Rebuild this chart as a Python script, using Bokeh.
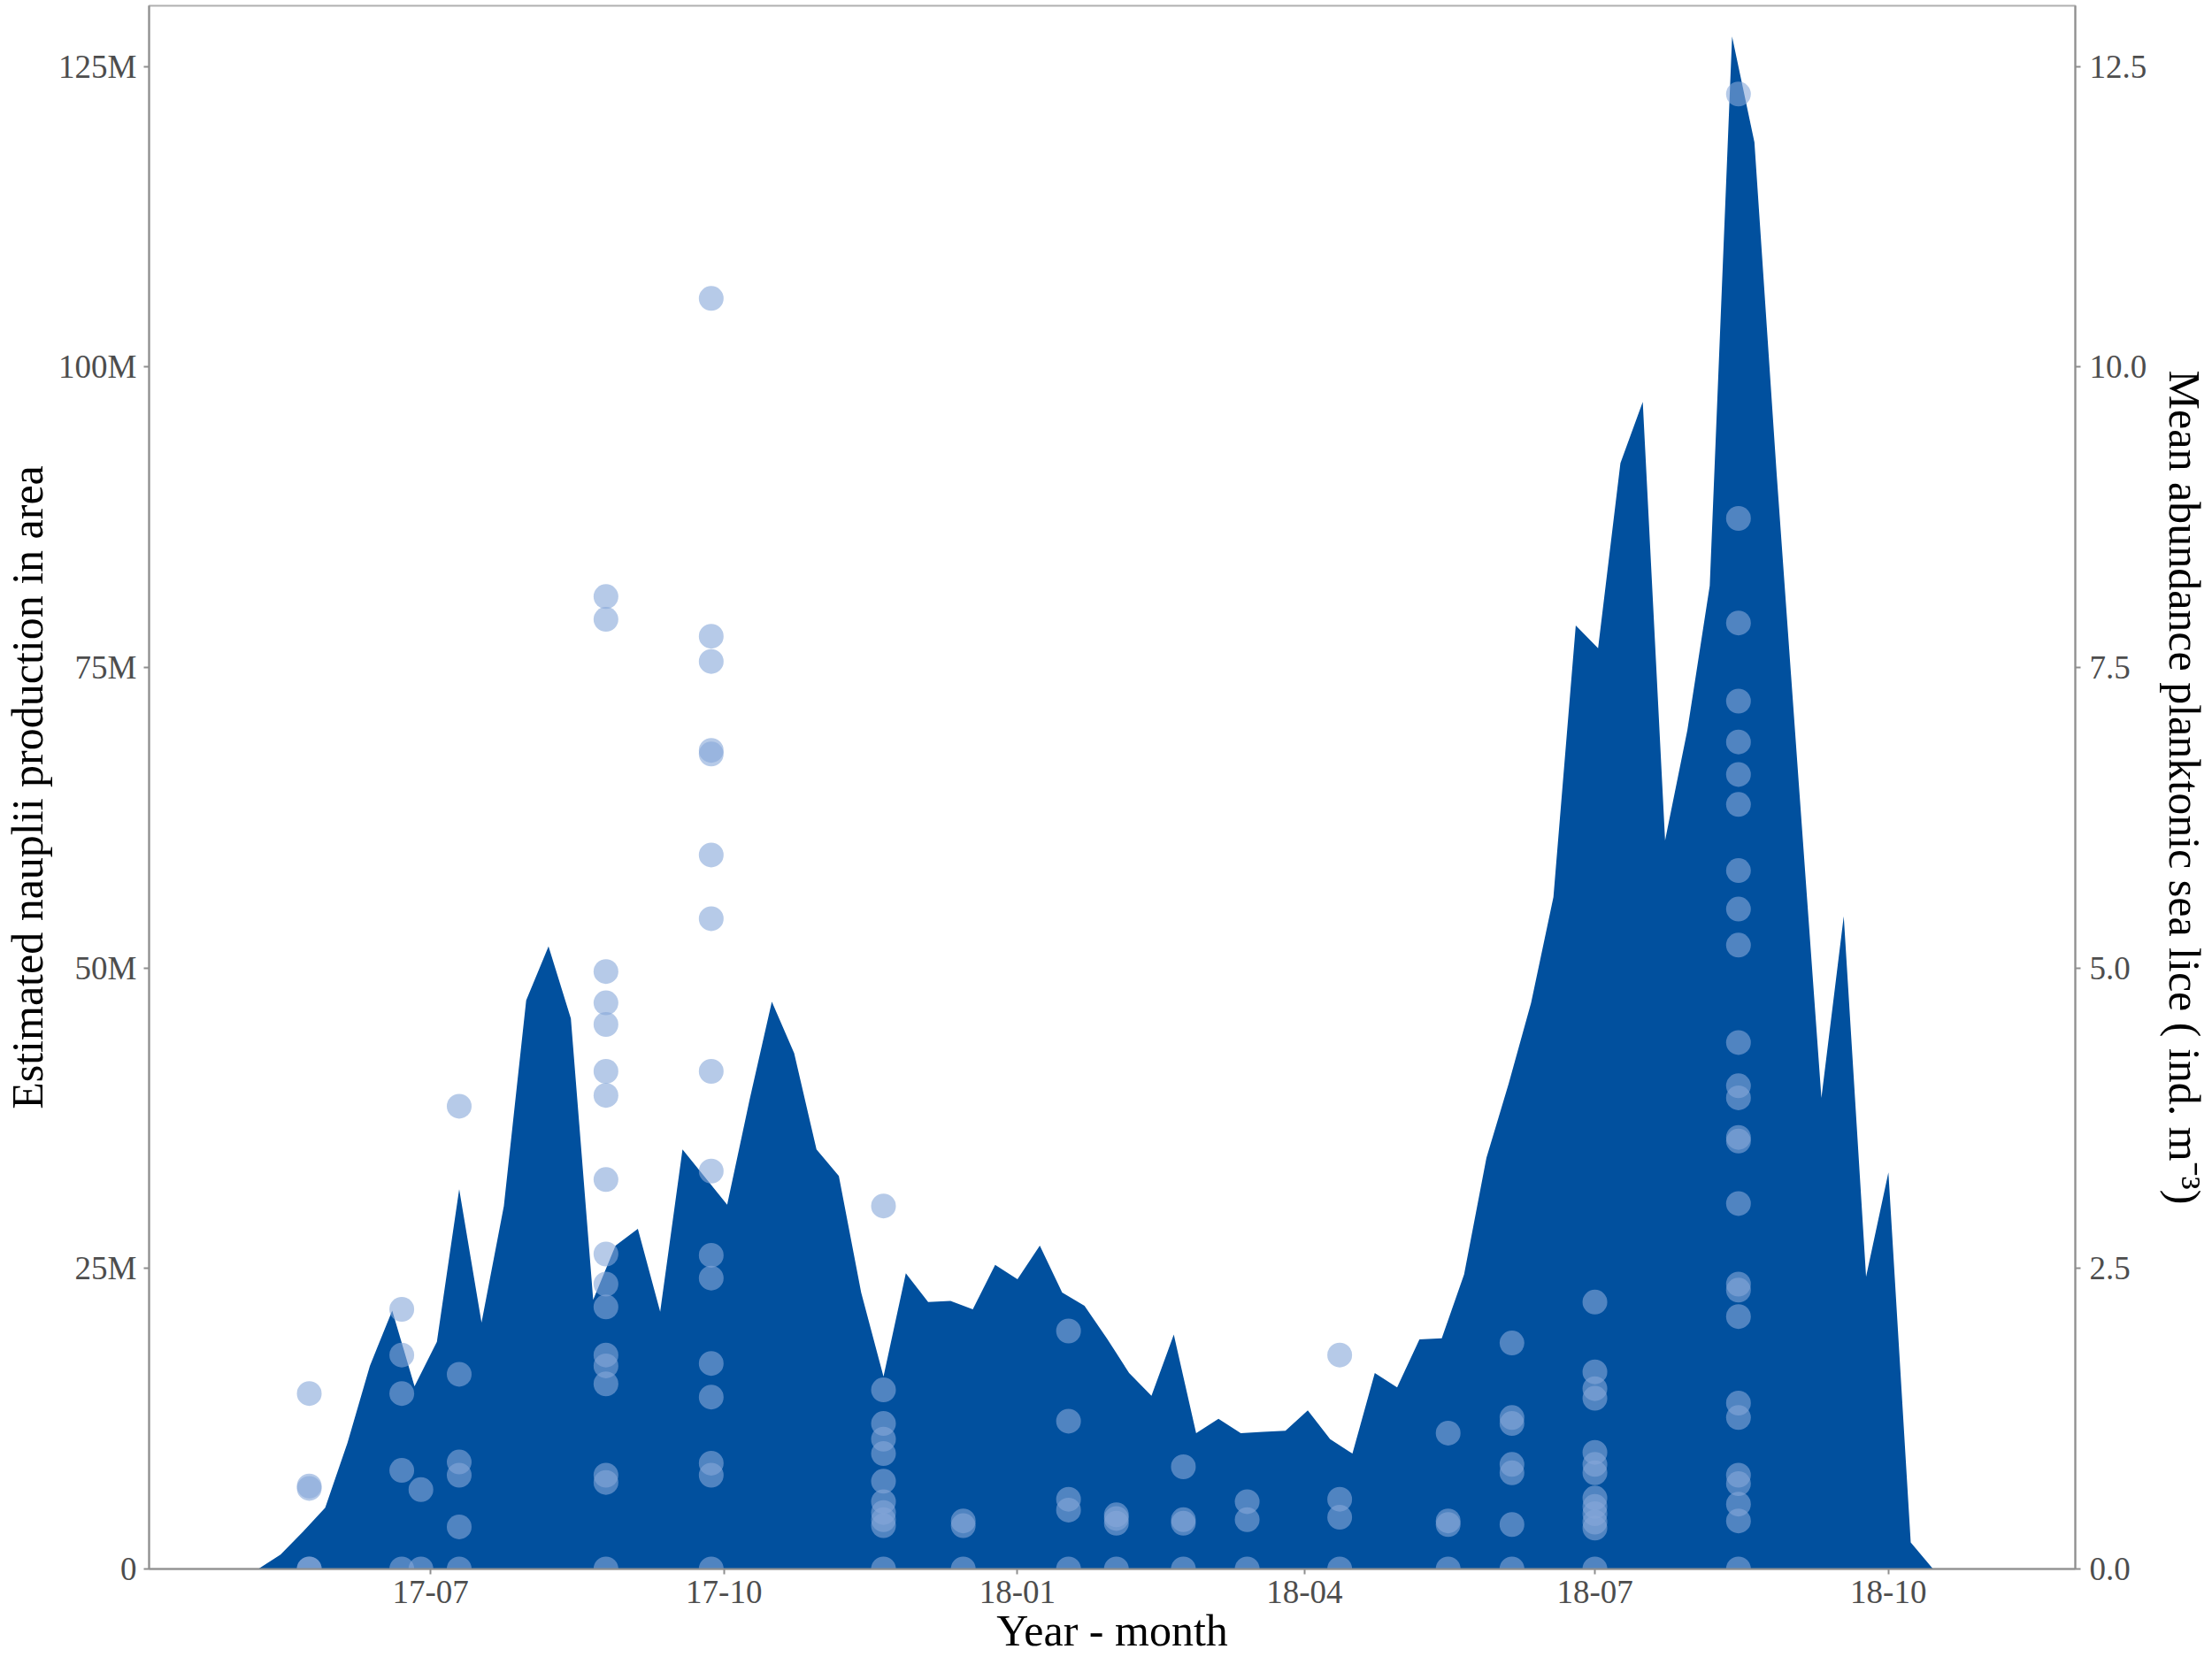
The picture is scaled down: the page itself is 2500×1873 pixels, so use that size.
import pandas as pd
from datetime import datetime
from bokeh.plotting import figure
from bokeh.models import (Range1d, LinearAxis, FixedTicker, DatetimeTickFormatter,
                          PrintfTickFormatter, ColumnDataSource)
from bokeh.embed import file_html
from bokeh.resources import INLINE

# ---------------- data ----------------
# weekly estimated nauplii production (millions), starting 2017-05-08
production_start = "2017-05-08"
production_millions = [
    0, 1.2, 3.1, 5.1, 10.5, 16.9, 21.5, 15.2, 18.9, 31.6,
    20.5, 30.2, 47.3, 51.8, 45.8, 22.4, 26.9, 28.3, 21.4, 34.9,
    32.6, 30.3, 39.0, 47.2, 42.9, 34.9, 32.7, 23.0, 16.0, 24.6,
    22.2, 22.3, 21.6, 25.3, 24.1, 26.9, 23.0, 21.9, 19.2, 16.3,
    14.4, 19.5, 11.3, 12.5, 11.3, 11.4, 11.5, 13.2, 10.8, 9.6,
    16.3, 15.1, 19.1, 19.2, 24.5, 34.2, 40.4, 47.1, 55.9, 78.5,
    76.6, 92.0, 97.1, 60.6, 69.8, 81.8, 127.5, 118.7, 91.0, 65.0,
    39.2, 54.3, 24.3, 33.0, 2.2, 0,
]

# planktonic sea lice samples (ind. m^-3) per sampling date
sample_dates = ["2017-05-24", "2017-06-22", "2017-06-28", "2017-07-10", "2017-08-25",
                "2017-09-27", "2017-11-20", "2017-12-15", "2018-01-17", "2018-02-01",
                "2018-02-22", "2018-03-14", "2018-04-12", "2018-05-16", "2018-06-05",
                "2018-07-01", "2018-08-15"]
sample_values = [
    [1.46, 0.69, 0.67, 0, 0],
    [2.16, 1.78, 1.46, 0.82, 0],
    [0.66, 0],
    [3.85, 1.62, 0.89, 0.78, 0.35, 0],
    [8.09, 7.90, 4.97, 4.71, 4.53, 4.14, 3.94, 3.24, 2.62, 2.37, 2.18, 1.78, 1.69, 1.54, 0.78, 0.72, 0],
    [10.57, 7.76, 7.55, 6.81, 6.78, 5.94, 5.41, 4.14, 3.31, 2.61, 2.42, 1.71, 1.43, 0.88, 0.78, 0],
    [3.02, 1.49, 1.21, 1.08, 0.96, 0.73, 0.56, 0.47, 0.41, 0.36, 0],
    [0.40, 0.36, 0],
    [1.98, 1.23, 0.58, 0.49, 0],
    [0.45, 0.42, 0.38, 0],
    [0.85, 0.41, 0.38, 0],
    [0.56, 0.41, 0],
    [1.78, 0.58, 0.43, 0],
    [1.13, 0.40, 0.37, 0],
    [1.88, 1.26, 1.21, 0.87, 0.80, 0.37, 0],
    [2.22, 1.64, 1.50, 1.42, 0.97, 0.87, 0.80, 0.59, 0.52, 0.46, 0.39, 0.34, 0],
    [12.27, 8.74, 7.87, 7.22, 6.88, 6.61, 6.36, 5.81, 5.49, 5.19, 4.38, 4.02, 3.92, 3.59,
     3.56, 3.04, 2.37, 2.32, 2.10, 1.38, 1.26, 0.78, 0.71, 0.54, 0.40, 0],
]

x_tick_dates = ["2017-07-01", "2017-10-01", "2018-01-01", "2018-04-01", "2018-07-01", "2018-10-01"]
left_ticks = [0, 25, 50, 75, 100, 125]
left_tick_labels = ["0", "25M", "50M", "75M", "100M", "125M"]
right_ticks = [0, 2.5, 5, 7.5, 10, 12.5]

x_title = "Year - month"
left_title = "Estimated nauplii production in area"
right_title = "Mean abundance planktonic sea lice ( ind. m\u207b\u00b3)"

# ---------------- sources ----------------
prod_dates = pd.date_range(production_start, periods=len(production_millions), freq="7D")
area_src = ColumnDataSource(dict(x=prod_dates, y=production_millions))

px, py = [], []
for d, vals in zip(sample_dates, sample_values):
    for v in vals:
        px.append(pd.Timestamp(d))
        py.append(v)
pts_src = ColumnDataSource(dict(x=px, y=py))

FONT = "Liberation Serif"
TICK_COLOR = "#4d4d4d"
AXIS_COLOR = "#8f8f8f"
y_top = 130.05

p = figure(width=2500, height=1873, x_axis_type="datetime",
           x_range=Range1d(datetime(2017, 4, 3, 19), datetime(2018, 11, 28, 14)),
           y_range=Range1d(0, y_top),
           output_backend="svg", toolbar_location=None,
           min_border_left=165, min_border_right=153, min_border_top=6, min_border_bottom=100)
p.background_fill_color = "white"
p.border_fill_color = "white"
p.outline_line_color = "#b0b0b0"
p.outline_line_width = 2
p.xgrid.visible = False
p.ygrid.visible = False

p.extra_y_ranges = {"abund": Range1d(0, y_top / 10.0)}

p.varea(x="x", y1=0, y2="y", source=area_src, fill_color="#01509e")
p.scatter(x="x", y="y", source=pts_src, y_range_name="abund", size=28,
          fill_color="#86a6d8", fill_alpha=0.6, line_color=None)

# x axis
xa = p.xaxis[0]
xa.ticker = FixedTicker(ticks=[pd.Timestamp(d).value / 1e6 for d in x_tick_dates])
fmt = "%y-%m"
xa.formatter = DatetimeTickFormatter(years=fmt, months=fmt, days=fmt, hours=fmt,
                                     minutes=fmt, seconds=fmt, milliseconds=fmt,
                                     microseconds=fmt, hourmin=fmt, minsec=fmt)
xa.axis_label = x_title

# left axis
ya = p.yaxis[0]
ya.ticker = FixedTicker(ticks=left_ticks)
ya.major_label_overrides = {t: lab for t, lab in zip(left_ticks, left_tick_labels)}
ya.axis_label = left_title

# right axis
ra = LinearAxis(y_range_name="abund", ticker=FixedTicker(ticks=right_ticks),
                formatter=PrintfTickFormatter(format="%.1f"), axis_label=right_title)
p.add_layout(ra, "right")

for ax in [xa, ya, ra]:
    ax.axis_line_color = AXIS_COLOR
    ax.axis_line_width = 2
    ax.major_tick_line_color = AXIS_COLOR
    ax.major_tick_line_width = 2
    ax.major_tick_out = 6
    ax.major_tick_in = 0
    ax.minor_tick_line_color = None
    ax.major_label_text_font = FONT
    ax.major_label_text_font_size = "37px"
    ax.major_label_text_color = TICK_COLOR
    ax.axis_label_text_font = FONT
    ax.axis_label_text_font_size = "50px"
    ax.axis_label_text_font_style = "normal"
    ax.axis_label_text_color = "black"

xa.major_label_standoff = 7
xa.axis_label_standoff = 0
ya.major_label_standoff = 8
ya.axis_label_standoff = 4
ra.major_label_standoff = 10
ra.axis_label_standoff = 12

open("out.html", "w").write(file_html(p, INLINE))
